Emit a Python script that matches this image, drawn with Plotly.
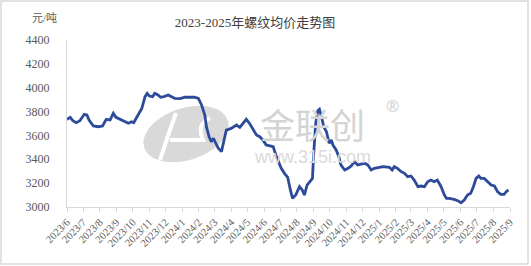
import math
import plotly.graph_objects as go

# ---- data ----
dates = ["2023-06-01","2023-06-07","2023-06-12","2023-06-18","2023-06-25","2023-07-03","2023-07-08","2023-07-12","2023-07-20","2023-07-29",
         "2023-08-06","2023-08-13","2023-08-20","2023-08-26","2023-08-31","2023-09-07","2023-09-16","2023-09-23","2023-09-29","2023-10-03",
         "2023-10-11","2023-10-18","2023-10-24","2023-10-28","2023-11-01","2023-11-07","2023-11-11","2023-11-17","2023-11-22","2023-11-28",
         "2023-12-06","2023-12-12","2023-12-18","2023-12-28","2024-01-06","2024-01-15","2024-01-24","2024-01-31","2024-02-06","2024-02-12",
         "2024-02-15","2024-02-20","2024-02-24","2024-02-28","2024-03-03","2024-03-08","2024-03-14","2024-03-17","2024-03-23","2024-04-01",
         "2024-04-11","2024-04-17","2024-04-23","2024-04-29","2024-05-05","2024-05-12","2024-05-18","2024-05-24","2024-05-30","2024-06-05",
         "2024-06-11","2024-06-18","2024-06-23","2024-06-27","2024-07-03","2024-07-09","2024-07-15","2024-07-20","2024-07-24","2024-07-30",
         "2024-08-06","2024-08-11","2024-08-15","2024-08-20","2024-08-25","2024-08-30","2024-09-01","2024-09-05","2024-09-09","2024-09-12",
         "2024-09-15","2024-09-20","2024-09-25","2024-09-30","2024-10-04","2024-10-07","2024-10-13","2024-10-18","2024-10-22","2024-10-29",
         "2024-11-04","2024-11-10","2024-11-16","2024-11-22","2024-11-28","2024-12-05","2024-12-11","2024-12-17","2024-12-23","2025-01-01",
         "2025-01-08","2025-01-20","2025-01-25","2025-01-29","2025-02-04","2025-02-11","2025-02-17","2025-02-23","2025-03-01","2025-03-07",
         "2025-03-14","2025-03-20","2025-03-26","2025-04-01","2025-04-07","2025-04-13","2025-04-19","2025-04-26","2025-05-02","2025-05-06",
         "2025-05-11","2025-05-20","2025-05-27","2025-06-02","2025-06-08","2025-06-14","2025-06-20","2025-06-25","2025-06-30","2025-07-05",
         "2025-07-09","2025-07-15","2025-07-21","2025-07-28","2025-08-03","2025-08-09","2025-08-15","2025-08-21","2025-08-25","2025-08-29"]

prices = [3735,3752,3723,3707,3723,3777,3771,3729,3679,3673,
          3679,3735,3729,3785,3752,3735,3715,3702,3715,3707,
          3771,3827,3925,3953,3930,3925,3953,3939,3920,3925,
          3939,3925,3911,3908,3920,3920,3920,3911,3855,3771,
          3673,3589,3547,3576,3534,3492,3464,3534,3645,3659,
          3687,3668,3701,3735,3701,3645,3604,3589,3562,3520,
          3511,3506,3436,3394,3324,3282,3249,3143,3073,3101,
          3170,3143,3100,3184,3212,3240,3422,3701,3807,3819,
          3771,3673,3631,3534,3562,3520,3478,3422,3352,3310,
          3324,3344,3380,3352,3360,3366,3352,3310,3324,3333,
          3338,3333,3310,3338,3324,3296,3282,3254,3260,3226,
          3170,3176,3170,3212,3226,3212,3226,3170,3101,3073,
          3073,3064,3053,3036,3059,3101,3115,3170,3240,3260,
          3240,3240,3212,3184,3176,3128,3106,3106,3128,3143]

title_text = "2023-2025年螺纹均价走势图"
unit_text = "元/吨"
y_ticks = [3000, 3200, 3400, 3600, 3800, 4000, 4200, 4400]

# ---- layout geometry (pixels) ----
W, H = 531, 266
L, R, T, B = 67, 510, 40, 207

def px(x):
    return (x - L) / (R - L)

def py(y):
    return (B - y) / (B - T)

FONT = "Liberation Serif, Noto Sans CJK SC, serif"

fig = go.Figure()
fig.add_trace(go.Scatter(x=dates, y=prices, mode="lines",
                         line=dict(color="#2E4A9A", width=2.8),
                         showlegend=False, hoverinfo="skip"))

shapes = []
# watermark logo: rotated ellipse
cx, cy, rx, ry, ang = 186, 134, 44, 26, math.radians(-18)
pts = []
for i in range(0, 361, 10):
    t = math.radians(i)
    x = rx * math.cos(t)
    y = ry * math.sin(t)
    X = cx + x * math.cos(ang) - y * math.sin(ang)
    Y = cy + x * math.sin(ang) + y * math.cos(ang)
    pts.append((px(X), py(Y)))
path = "M " + " L ".join(f"{a:.4f},{b:.4f}" for a, b in pts) + " Z"
shapes.append(dict(type="path", path=path, xref="paper", yref="paper",
                   fillcolor="#d9d9d9", line=dict(width=0), layer="below"))
# white strokes across logo
shapes.append(dict(type="path", xref="paper", yref="paper", layer="below",
                   path=f"M {px(176):.4f},{py(113):.4f} Q {px(168):.4f},{py(135):.4f} {px(160):.4f},{py(160):.4f}",
                   line=dict(color="white", width=4)))
shapes.append(dict(type="path", xref="paper", yref="paper", layer="below",
                   path=f"M {px(170):.4f},{py(140):.4f} L {px(203):.4f},{py(140):.4f} Q {px(196):.4f},{py(124):.4f} {px(210):.4f},{py(118):.4f}",
                   line=dict(color="white", width=4)))
# outer border of picture
shapes.append(dict(type="rect", xref="paper", yref="paper",
                   x0=px(1), x1=px(528), y0=py(264), y1=py(1),
                   line=dict(color="#d9d9d9", width=1.5), layer="below"))

annotations = [
    dict(text=unit_text, xref="paper", yref="paper", x=px(44), y=py(18),
         showarrow=False, font=dict(family=FONT, size=11, color="#595959"),
         xanchor="center", yanchor="middle"),
    dict(text="金联创", xref="paper", yref="paper", x=px(312), y=py(123),
         showarrow=False, font=dict(family="Noto Sans CJK SC", size=35, color="#d4d4d4"),
         xanchor="center", yanchor="middle"),
    dict(text="®", xref="paper", yref="paper", x=px(392), y=py(106),
         showarrow=False, font=dict(family="Noto Sans", size=16, color="#d4d4d4"),
         xanchor="center", yanchor="middle"),
    dict(text="www.315i.com", xref="paper", yref="paper", x=px(312), y=py(157),
         showarrow=False, font=dict(family="Liberation Sans", size=18, color="#dadada"),
         xanchor="center", yanchor="middle"),
]

fig.update_layout(
    width=W, height=H,
    margin=dict(l=L, r=W - R, t=T, b=H - B),
    paper_bgcolor="white", plot_bgcolor="rgba(0,0,0,0)",
    title=dict(text=title_text, x=255 / W, y=1 - 22 / H, xanchor="center", yanchor="middle",
               font=dict(family=FONT, size=13, color="#404040")),
    shapes=shapes, annotations=annotations,
    xaxis=dict(type="date", range=["2023-06-01", "2025-09-01"],
               tick0="2023-06-01", dtick="M1", tickformat="%Y/%-m",
               tickangle=-45, showgrid=False, zeroline=False,
               showline=True, linecolor="#d9d9d9", linewidth=1,
               ticks="outside", ticklen=4, tickcolor="#d9d9d9",
               tickfont=dict(family=FONT, size=10.5, color="#595959")),
    yaxis=dict(range=[3000, 4400], tickvals=y_ticks, showgrid=False, zeroline=False,
               showline=True, linecolor="#d9d9d9", linewidth=1, ticks="",
               ticklabelstandoff=14,
               tickfont=dict(family=FONT, size=12, color="#595959")),
)

fig.write_html("out.html")
